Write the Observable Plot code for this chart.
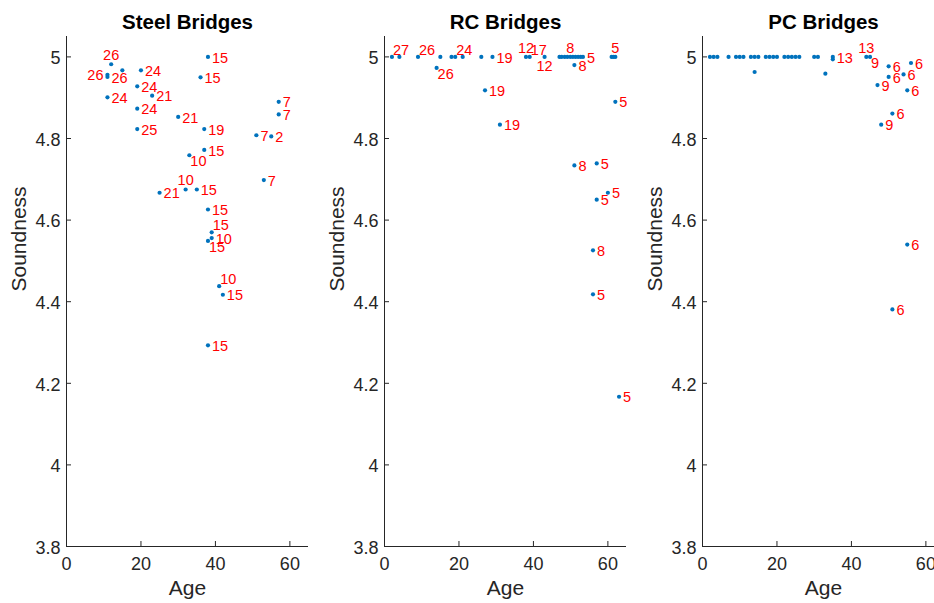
<!DOCTYPE html>
<html>
<head>
<meta charset="utf-8">
<script src="https://cdn.jsdelivr.net/npm/d3@7"></script>
<script src="https://cdn.jsdelivr.net/npm/@observablehq/plot@0.6"></script>
<style>
html, body { margin: 0; padding: 0; background: #fff; overflow: hidden; }
#wrap { position: relative; width: 934px; height: 603px; overflow: hidden; background: #fff; }
#wrap svg { position: absolute; top: 0; max-width: none !important; }
</style>
</head>
<body>
<div id="wrap"></div>
<script>
// ---- Data ----
const panelTitles = ["Steel Bridges", "RC Bridges", "PC Bridges"];
const xTicks = [0, 20, 40, 60];
const yTicks = [3.8, 4, 4.2, 4.4, 4.6, 4.8, 5];

const steelAge = [12, 11, 11, 15, 20, 19, 23, 11, 19, 30, 19, 38, 36, 37, 37, 33, 57, 57, 51, 55, 53, 32, 35, 25, 38, 39, 39, 38, 41, 42, 38];
const steelSoundness = [4.982, 4.956, 4.951, 4.967, 4.967, 4.928, 4.905, 4.901, 4.873, 4.853, 4.823, 5.0, 4.950, 4.823, 4.772, 4.759, 4.890, 4.859, 4.808, 4.805, 4.698, 4.675, 4.675, 4.667, 4.626, 4.570, 4.556, 4.549, 4.438, 4.417, 4.293];
const steelLabel = ["26","26","26","","24","24","21","24","24","21","25","15","15","19","15","10","7","7","7","2","7","10","15","21","15","15","10","15","10","15","15"];

const rcAge = [2, 4, 9, 15, 18, 19, 21, 26, 29, 38, 39, 43, 47, 47.6, 48.4, 49.1, 49.9, 50.6, 51.3, 52, 52.7, 53.3, 61, 61.5, 62, 14, 51, 27, 31, 62, 51, 57, 60, 57, 56, 56, 63];
const rcSoundness = [5, 5, 5, 5, 5, 5, 5, 5, 5, 5, 5, 5, 5, 5, 5, 5, 5, 5, 5, 5, 5, 5, 5, 5, 5, 4.973, 4.980, 4.918, 4.834, 4.890, 4.734, 4.739, 4.667, 4.650, 4.526, 4.418, 4.167];
const rcLabel = ["27","","26","","","24","","","19","12","17","12","","","","","8","","","","","5","","","5","26","8","19","19","5","8","5","5","5","8","5","5"];

const pcAge = [2, 3, 4, 7, 9, 10, 11, 13, 14, 15, 17, 18, 19, 20, 22, 23, 24, 25, 26, 30, 31, 35, 35, 44, 45, 14, 33, 50, 56, 50, 54, 47, 55, 51, 48, 55, 51];
const pcSoundness = [5, 5, 5, 5, 5, 5, 5, 5, 5, 5, 5, 5, 5, 5, 5, 5, 5, 5, 5, 5, 5, 5, 4.994, 5, 5, 4.963, 4.959, 4.977, 4.985, 4.951, 4.957, 4.931, 4.918, 4.861, 4.834, 4.540, 4.381];
const pcLabel = ["","","","","","","","","","","","","","","","","","","","","","13","","13","9","","","6","6","6","6","9","6","6","9","6","6"];

// ---- Label placement codes (layout only) ----
const steelLabelPlace = ["t","l","r","","r","r","r","r","r","r","r","r","r","r","r","br","r","r","r","r","r","t","r","r","r","ur","r","br","ur","r","r"];
const rcLabelPlace = ["ur","","ur","","","ur","","","r","t","ur","b","","","","","t","","","","","r","","","t","br","r","r","r","r","r","r","r","r","r","r","r"];
const pcLabelPlace = ["","","","","","","","","","","","","","","","","","","","","","r","","t","br","","","r","r","r","r","r","r","r","r","r","r"];

const placements = {
  r:  {dx: 4,  dy: 1,  anchor: "start"},
  l:  {dx: -4, dy: 1,  anchor: "end"},
  t:  {dx: 0,  dy: -9, anchor: "middle"},
  b:  {dx: 0,  dy: 9,  anchor: "middle"},
  ur: {dx: 1,  dy: -7, anchor: "start"},
  br: {dx: 1,  dy: 6,  anchor: "start"}
};

const FONT = "'Liberation Sans', Arial, Helvetica, sans-serif";
const AXIS = "#262626";

function panel(title, ages, sound, labels, place, left) {
  const data = ages.map((a, i) => ({age: a, s: sound[i], label: labels[i], place: place[i]}));
  const labelMarks = Object.entries(placements).map(([k, p]) =>
    Plot.text(data.filter(d => d.place === k && d.label), {
      x: "age", y: "s", text: "label",
      dx: p.dx, dy: p.dy, textAnchor: p.anchor, lineAnchor: "middle",
      fill: "#ff0000", fontSize: 14.5, fontFamily: FONT
    })
  );
  const svg = Plot.plot({
    width: 318,
    height: 603,
    marginTop: 36,
    marginBottom: 57,
    marginLeft: 66,
    marginRight: 10,
    style: {fontFamily: FONT, color: AXIS, background: "transparent", overflow: "visible"},
    x: {domain: [0, 65]},
    y: {domain: [3.8, 5.05]},
    marks: [
      Plot.axisX(xTicks, {tickSize: 0, tickPadding: 11, label: null, fontSize: 18, tickFormat: d => String(d)}),
      Plot.axisX(xTicks, {tickSize: 5, dy: -5, label: null, tickFormat: () => ""}),
      Plot.axisY(yTicks, {tickSize: 0, tickPadding: 6, label: null, fontSize: 18, dy: 1.5, tickFormat: d => String(d)}),
      Plot.axisY(yTicks, {tickSize: 5, dx: 5, label: null, tickFormat: () => ""}),
      Plot.ruleX([0], {stroke: AXIS, strokeWidth: 1}),
      Plot.ruleY([3.8], {stroke: AXIS, strokeWidth: 1}),
      Plot.dot(data, {x: "age", y: "s", r: 2.1, fill: "#0072BD", stroke: "none"}),
      ...labelMarks,
      Plot.text([title], {frameAnchor: "top", lineAnchor: "bottom", dy: -8, fontSize: 20.5, fontWeight: "bold", fill: "#000", fontFamily: FONT}),
      Plot.text(["Age"], {frameAnchor: "bottom", lineAnchor: "middle", dy: 42, fontSize: 21, fill: AXIS, fontFamily: FONT}),
      Plot.text(["Soundness"], {frameAnchor: "left", lineAnchor: "middle", rotate: -90, dx: -47, fontSize: 21, fill: AXIS, fontFamily: FONT})
    ]
  });
  svg.style.left = left + "px";
  document.getElementById("wrap").appendChild(svg);
}

panel(panelTitles[0], steelAge, steelSoundness, steelLabel, steelLabelPlace, 0);
panel(panelTitles[1], rcAge, rcSoundness, rcLabel, rcLabelPlace, 318);
panel(panelTitles[2], pcAge, pcSoundness, pcLabel, pcLabelPlace, 636);
</script>
</body>
</html>
